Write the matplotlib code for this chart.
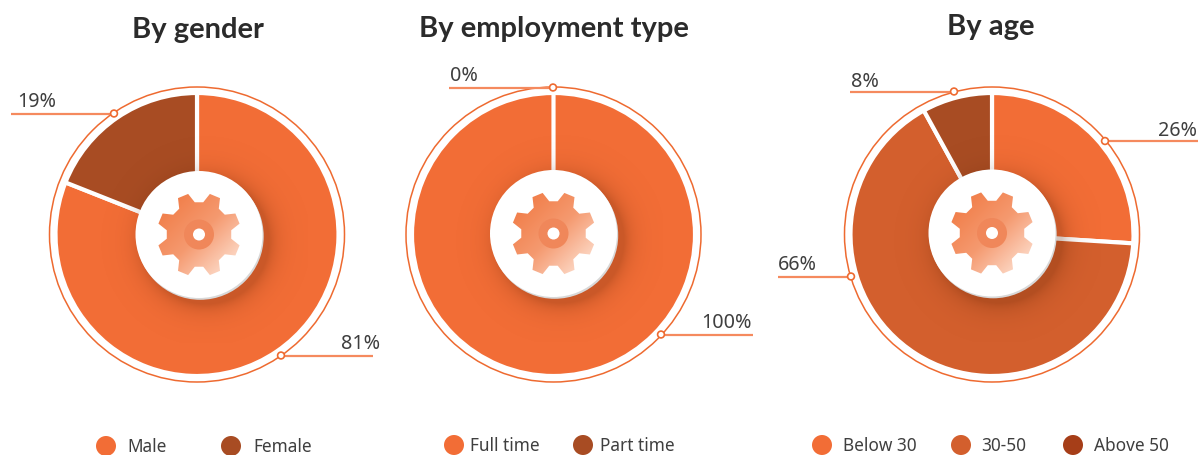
import numpy as np
import matplotlib
matplotlib.use('Agg')
import matplotlib.pyplot as plt
from matplotlib.colors import LinearSegmentedColormap
from matplotlib.patches import Circle, Polygon

# Workforce breakdown
titles = ['By gender', 'By employment type', 'By age']
gender_labels = ['Male', 'Female']
gender_values = [81, 19]
employment_labels = ['Full time', 'Part time']
employment_values = [100, 0]
age_labels = ['Below 30', '30-50', 'Above 50']
age_values = [26, 66, 8]

gender_colors = ['#F26D36', '#A84C23']
employment_colors = ['#F26D36', '#A84C23']
age_colors = ['#F26D36', '#D35F2D', '#A84C23']
age_legend_colors = ['#F26D36', '#D35F2D', '#A63E18']

plt.rcParams['font.family'] = ['Noto Sans', 'DejaVu Sans']

W, H = 1199, 456
fig = plt.figure(figsize=(W / 100, H / 100), dpi=100)
ax = fig.add_axes([0, 0, 1, 1])

RADIUS = 141.5
RING = 147.5
HOLE = 63.5
LINE_COL = '#F58A5E'
RING_COL = '#EE6A30'
TEXT_COL = '#3F3F3F'

gear_cmap = LinearSegmentedColormap.from_list('gear', ['#F17D48', '#F59A70', '#FDDCCB'])


def draw_hub(cx, cy):
    # soft shadow under the white hub, pushed to the lower right
    xs = np.arange(cx - 110, cx + 110, 1.0)
    ys = np.arange(cy - 110, cy + 110, 1.0)
    xx, yy = np.meshgrid(xs, ys)
    d = np.hypot(xx - cx - 7, yy - cy - 7)
    alpha = 0.26 * np.exp(-np.clip(d - HOLE, 0, None) / 10.0)
    shadow = np.zeros(xx.shape + (4,))
    shadow[..., 0] = 0.35
    shadow[..., 1] = 0.12
    shadow[..., 3] = alpha
    ax.imshow(shadow, extent=(xs[0], xs[-1], ys[-1], ys[0]), zorder=3, interpolation='bilinear')
    ax.add_patch(Circle((cx + 1.2, cy + 1.8), HOLE, fc='#D8D8D8', ec='none', zorder=4))
    ax.add_patch(Circle((cx, cy), HOLE, fc='white', ec='none', zorder=5))

    # gear outline, eight flat teeth
    pts = []
    for k in range(8):
        a = 22.5 + 45 * k
        for da, r in [(-15, 32.5), (-7.5, 42), (7.5, 42), (15, 32.5)]:
            t = np.radians(a + da)
            pts.append((cx + r * np.cos(t), cy + r * np.sin(t)))
    gear = Polygon(pts, closed=True, fc='none', ec='none', transform=ax.transData)
    ax.add_patch(gear)
    u = np.linspace(0, 1, 128)
    grad = (u[None, :] + u[:, None]) / 2
    img = ax.imshow(grad, cmap=gear_cmap, extent=(cx - 42, cx + 42, cy + 42, cy - 42), zorder=6, vmin=0.12, vmax=0.9)
    img.set_clip_path(gear)
    ax.add_patch(Circle((cx, cy), 15, fc='#F0875A', ec='none', zorder=7))
    ax.add_patch(Circle((cx, cy), 6, fc='white', ec='none', zorder=8))


def draw_donut(values, colors, center, hub):
    ax.pie(values, colors=colors, center=center, radius=RADIUS, startangle=-90,
           counterclock=True, wedgeprops=dict(edgecolor='white', linewidth=3))
    ax.add_patch(Circle(center, RING, fc='none', ec=RING_COL, lw=1.1, zorder=2))
    draw_hub(*hub)


def draw_callout(value, dot, x_end, text_x, text_y, ha):
    ax.plot([dot[0], x_end], [dot[1], dot[1]], color=LINE_COL, lw=1.6, zorder=9, solid_capstyle='butt')
    ax.add_patch(Circle(dot, 3.4, fc='white', ec=RING_COL, lw=1.2, zorder=10))
    ax.text(text_x, text_y, f'{value}%', fontsize=14.2, color=TEXT_COL, ha=ha, va='center', zorder=11)


def draw_legend(labels, colors, dot_xs, text_xs, y):
    for lab, col, dx, tx in zip(labels, colors, dot_xs, text_xs):
        ax.add_patch(Circle((dx, y), 10, fc=col, ec='none', zorder=9))
        ax.text(tx, y, lab, fontsize=12.4, color=TEXT_COL, ha='left', va='center', zorder=9)


draw_donut(gender_values, gender_colors, (197, 235.5), (199, 235.5))
draw_donut(employment_values, employment_colors, (553.5, 235.5), (553.5, 234.5))
draw_donut(age_values, age_colors, (992, 235.5), (992, 234))

title_font = dict(fontsize=21, fontweight='bold', family='Lato', color='#2B2B2B', ha='center', va='center')
ax.text(198, 30, titles[0], **title_font)
ax.text(554, 29, titles[1], **title_font)
ax.text(991, 27, titles[2], **title_font)

draw_callout(gender_values[1], (114, 114.5), 11, 17, 102, 'left')
draw_callout(gender_values[0], (281, 356.5), 373, 380, 344, 'right')
draw_callout(employment_values[1], (553, 88.5), 449, 450, 76, 'left')
draw_callout(employment_values[0], (661, 335.5), 753, 752, 323, 'right')
draw_callout(age_values[0], (1105, 142), 1198, 1197, 131, 'right')
draw_callout(age_values[1], (851, 277.5), 778, 778, 265, 'left')
draw_callout(age_values[2], (954, 92.5), 850, 851, 82, 'left')

draw_legend(gender_labels, gender_colors, [106, 231], [127, 253], 447)
draw_legend(employment_labels, employment_colors, [454, 583], [470, 600], 446)
draw_legend(age_labels, age_legend_colors, [822, 961, 1073], [843, 981, 1094], 446)

ax.set_xlim(0, W)
ax.set_ylim(H, 0)
ax.set_aspect('auto')
ax.axis('off')

plt.savefig('out.png', dpi=100)
